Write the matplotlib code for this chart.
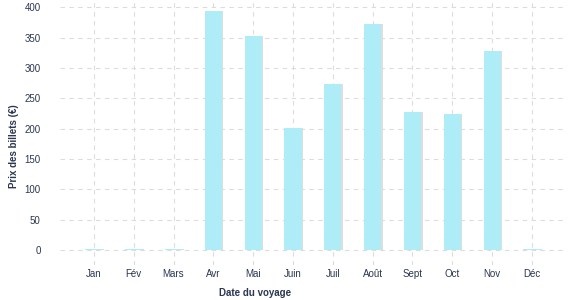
import matplotlib
matplotlib.use("Agg")
import matplotlib.pyplot as plt

months = ["Jan", "Fév", "Mars", "Avr", "Mai", "Juin", "Juil", "Août", "Sept", "Oct", "Nov", "Déc"]
prices = [2, 2, 2, 394, 353, 201, 273, 372, 228, 224, 328, 2]
yticks = [0, 50, 100, 150, 200, 250, 300, 350, 400]

txt = "#2b3650"
plt.rcParams["font.family"] = ["Liberation Sans", "DejaVu Sans"]

fig = plt.figure(figsize=(5.77, 3.0), dpi=100)
ax = fig.add_axes([60 / 577, 35 / 300, 507 / 577, 265 / 300])

x = list(range(len(months)))
# faint shadow on the right of each bar
ax.bar([i + 0.04 for i in x], prices, width=0.43, color="#dddddd", zorder=2)
ax.bar(x, prices, width=0.43, color="#aeedf8", zorder=3)

ax.set_xlim(-0.85, 11.88)
ax.set_ylim(-25, 412)
ax.set_xticks(x)
ax.set_xticklabels(months)
ax.set_yticks(yticks)
ax.tick_params(axis="both", length=0, labelsize=7, colors=txt)
ax.tick_params(axis="y", pad=14)
ax.tick_params(axis="x", pad=3)
for s in ax.spines.values():
    s.set_visible(False)
ax.grid(True, linestyle=(0, (4, 4)), color="#dcdcdc", linewidth=0.8, zorder=0)
ax.set_axisbelow(True)

ax.set_xlabel("Date du voyage", fontsize=7, fontweight="bold", color=txt)
ax.xaxis.set_label_coords((255 - 60) / 507, -0.085)
ax.set_ylabel("Prix des billets (€)", fontsize=7, fontweight="bold", color=txt)
ax.yaxis.set_label_coords(-41 / 507, 0.45)

fig.savefig("out.png", dpi=100)
